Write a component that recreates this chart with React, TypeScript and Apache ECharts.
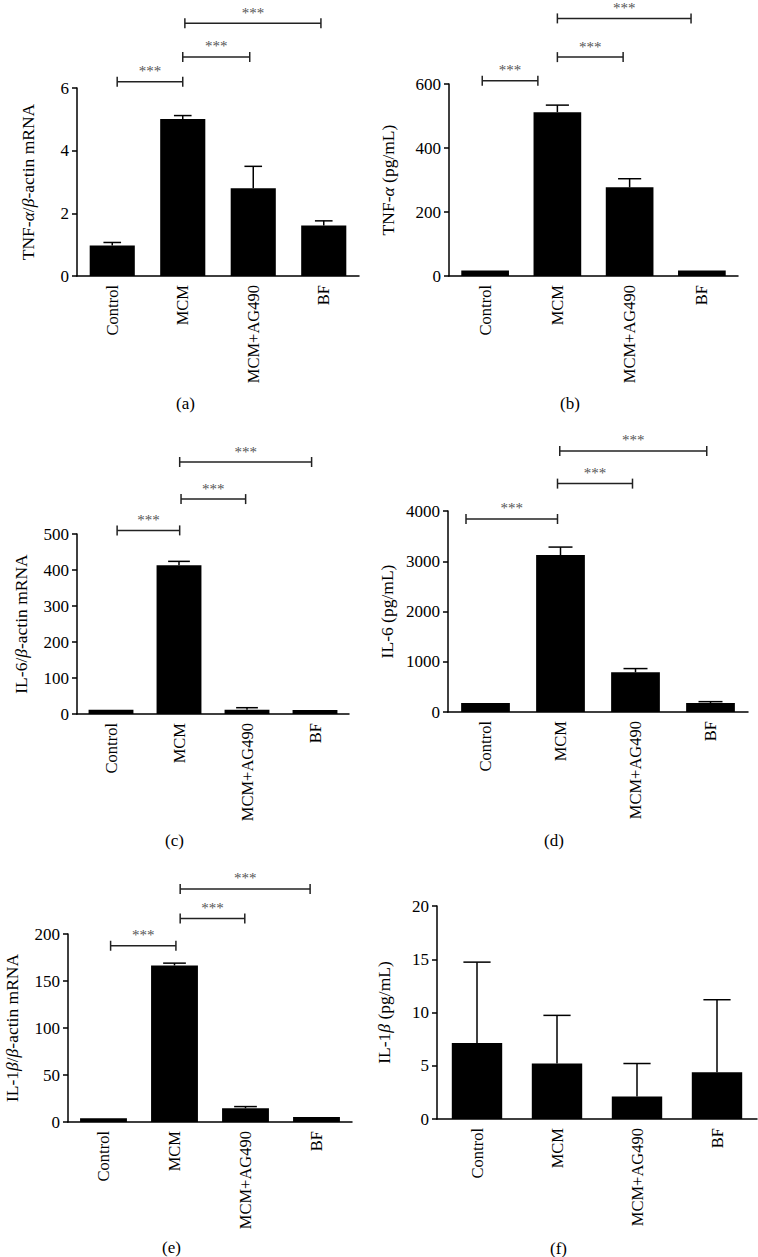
import React, { useEffect, useRef } from 'react';
import * as echarts from 'echarts';

const categories = ['Control', 'MCM', 'MCM+AG490', 'BF'];

// Means and upper SD (0 = no visible error bar)
const meanA = [0.97, 5.01, 2.8, 1.61];
const sdA = [0.1, 0.11, 0.7, 0.15];
const meanB = [17, 512, 277, 17];
const sdB = [0, 22, 27, 0];
const meanC = [12, 413, 12, 11];
const sdC = [0, 11, 5.5, 0];
const meanD = [179, 3123, 791, 179];
const sdD = [0, 159, 73, 27];
const meanE = [3.9, 166.5, 14.6, 5.3];
const sdE = [0, 2.5, 1.8, 0];
const meanF = [7.14, 5.21, 2.12, 4.4];
const sdF = [7.59, 4.52, 3.09, 6.8];

// Significance brackets: [from (category position), to, height in data units]
const bracketsA = [[0.07, 1.0, 6.2], [1.0, 1.95, 6.99], [1.03, 2.96, 8.07]];
const bracketsB = [[-0.04, 0.73, 610], [1.0, 1.91, 684], [1.0, 2.85, 805]];
const bracketsC = [[0.09, 1.01, 510], [1.03, 1.98, 597], [1.01, 2.95, 700]];
const bracketsD = [[-0.26, 0.96, 3841], [0.96, 1.96, 4545], [0.99, 2.95, 5196]];
const bracketsE = [[0.1, 1.02, 187.5], [1.08, 1.99, 216.4], [1.08, 2.91, 248]];
const bracketsF: number[][] = [];

const yTicksMax = [6, 600, 500, 4000, 200, 20];
const yTicksInterval = [2, 200, 100, 1000, 50, 5];

const FONT = 'Liberation Serif';

const panels = [
  { mean: meanA, sd: sdA, br: bracketsA, name: '{n|TNF-}{i|α}{n|/}{i|β}{n|-actin mRNA}', grid: { left: 77, top: 88, width: 282, height: 188 }, gap: 40, bw: '64%', cap: 0.25, caption: '(a)', cx: 187, cy: 405 },
  { mean: meanB, sd: sdB, br: bracketsB, name: '{n|TNF-}{i|α}{n| (pg/mL)}', grid: { left: 449, top: 84, width: 289, height: 192 }, gap: 52, bw: '66%', cap: 0.32, caption: '(b)', cx: 571, cy: 405 },
  { mean: meanC, sd: sdC, br: bracketsC, name: '{n|IL-6/}{i|β}{n|-actin mRNA}', grid: { left: 77, top: 534, width: 272, height: 180 }, gap: 47, bw: '66%', cap: 0.32, caption: '(c)', cx: 176, cy: 842 },
  { mean: meanD, sd: sdD, br: bracketsD, name: '{n|IL-6 (pg/mL)}', grid: { left: 448, top: 511, width: 300, height: 201 }, gap: 52, bw: '65%', cap: 0.32, caption: '(d)', cx: 555, cy: 842 },
  { mean: meanE, sd: sdE, br: bracketsE, name: '{n|IL-1}{i|β}{n|/}{i|β}{n|-actin mRNA}', grid: { left: 68, top: 934, width: 284, height: 188 }, gap: 47, bw: '66%', cap: 0.32, caption: '(e)', cx: 173, cy: 1249 },
  { mean: meanF, sd: sdF, br: bracketsF, name: '{n|IL-1}{i|β}{n| (pg/mL)}', grid: { left: 437, top: 906, width: 320, height: 213 }, gap: 44, bw: '63%', cap: 0.34, caption: '(f)', cx: 561, cy: 1250 },
];

const axisLineStyle = { color: '#000', width: 1.5 };

export default function App() {
  const ref = useRef<HTMLDivElement>(null);
  useEffect(() => {
    if (!ref.current) return;
    const chart = echarts.init(ref.current, undefined, { renderer: 'svg' });

    const grids: any[] = [];
    const xAxes: any[] = [];
    const yAxes: any[] = [];
    const series: any[] = [];
    const graphics: any[] = [];

    panels.forEach((p, i) => {
      grids.push({ ...p.grid, containLabel: false });
      xAxes.push({
        type: 'category',
        gridIndex: i,
        data: categories,
        axisLine: { onZero: false, lineStyle: axisLineStyle },
        axisTick: { alignWithLabel: true, length: 5, lineStyle: axisLineStyle },
        axisLabel: { rotate: 90, margin: 9, color: '#000', fontFamily: FONT, fontSize: 16.5, interval: 0 },
        splitLine: { show: false },
      });
      yAxes.push({
        type: 'value',
        gridIndex: i,
        min: 0,
        max: yTicksMax[i],
        interval: yTicksInterval[i],
        name: p.name,
        nameLocation: 'middle',
        nameGap: p.gap,
        nameTextStyle: {
          color: '#000', fontFamily: FONT, fontSize: 17.5,
          rich: {
            n: { color: '#000', fontFamily: FONT, fontSize: 17.5 },
            i: { color: '#000', fontFamily: FONT, fontSize: 17.5, fontStyle: 'italic' },
          },
        },
        axisLine: { show: true, onZero: false, lineStyle: axisLineStyle },
        axisTick: { show: true, length: 5, lineStyle: axisLineStyle },
        axisLabel: { margin: 8, color: '#000', fontFamily: FONT, fontSize: 17, formatter: (v: number) => String(v) },
        splitLine: { show: false },
      });
      series.push({
        type: 'bar',
        xAxisIndex: i,
        yAxisIndex: i,
        data: p.mean,
        barWidth: p.bw,
        itemStyle: { color: '#000' },
        silent: true,
      });
      const errData = p.mean
        .map((m, k) => [k, m, m + p.sd[k]])
        .filter((d, k) => p.sd[k] > 0);
      const cap = p.cap;
      series.push({
        type: 'custom',
        xAxisIndex: i,
        yAxisIndex: i,
        data: errData,
        encode: { x: 0, y: [1, 2] },
        clip: false,
        silent: true,
        z: 3,
        renderItem: (params: any, api: any) => {
          const x = api.value(0);
          const p0 = api.coord([x, api.value(1)]);
          const p1 = api.coord([x, api.value(2)]);
          const half = (api.size([1, 0])[0] * cap) / 2;
          const st = { stroke: '#000', lineWidth: 1.5 };
          return {
            type: 'group',
            children: [
              { type: 'line', shape: { x1: p0[0], y1: p0[1], x2: p1[0], y2: p1[1] }, style: st },
              { type: 'line', shape: { x1: p1[0] - half, y1: p1[1], x2: p1[0] + half, y2: p1[1] }, style: st },
            ],
          };
        },
      });
      graphics.push({
        type: 'text',
        left: p.cx - 11,
        top: p.cy - 10,
        style: { text: p.caption, fill: '#000', font: `17px "${FONT}"` },
      });
    });

    // hidden value x-axes for bracket positions (aligned with category bands)
    panels.forEach((p, i) => {
      xAxes.push({ type: 'value', gridIndex: i, min: -0.5, max: 3.5, show: false });
    });
    panels.forEach((p, i) => {
      if (!p.br.length) return;
      series.push({
        type: 'custom',
        xAxisIndex: panels.length + i,
        yAxisIndex: i,
        data: p.br,
        encode: { x: [0, 1], y: 2 },
        clip: false,
        silent: true,
        z: 4,
        renderItem: (params: any, api: any) => {
          const y = api.value(2);
          const a = api.coord([api.value(0), y]);
          const b = api.coord([api.value(1), y]);
          const st = { stroke: '#222', lineWidth: 1.5 };
          return {
            type: 'group',
            children: [
              { type: 'line', shape: { x1: a[0], y1: a[1], x2: b[0], y2: b[1] }, style: st },
              { type: 'line', shape: { x1: a[0], y1: a[1] - 5, x2: a[0], y2: a[1] + 5 }, style: st },
              { type: 'line', shape: { x1: b[0], y1: b[1] - 5, x2: b[0], y2: b[1] + 5 }, style: st },
              {
                type: 'text',
                x: (a[0] + b[0]) / 2,
                y: a[1] - 3,
                style: { text: '***', fill: '#555', font: `15px "${FONT}"`, textAlign: 'center', textVerticalAlign: 'bottom' },
              },
            ],
          };
        },
      });
    });

    chart.setOption({
      animation: false,
      backgroundColor: '#fff',
      grid: grids,
      xAxis: xAxes,
      yAxis: yAxes,
      series,
      graphic: graphics,
    });
    return () => chart.dispose();
  }, []);
  return <div ref={ref} style={{ position: 'absolute', left: 0, top: 0, width: 758, height: 1257 }} />;
}
